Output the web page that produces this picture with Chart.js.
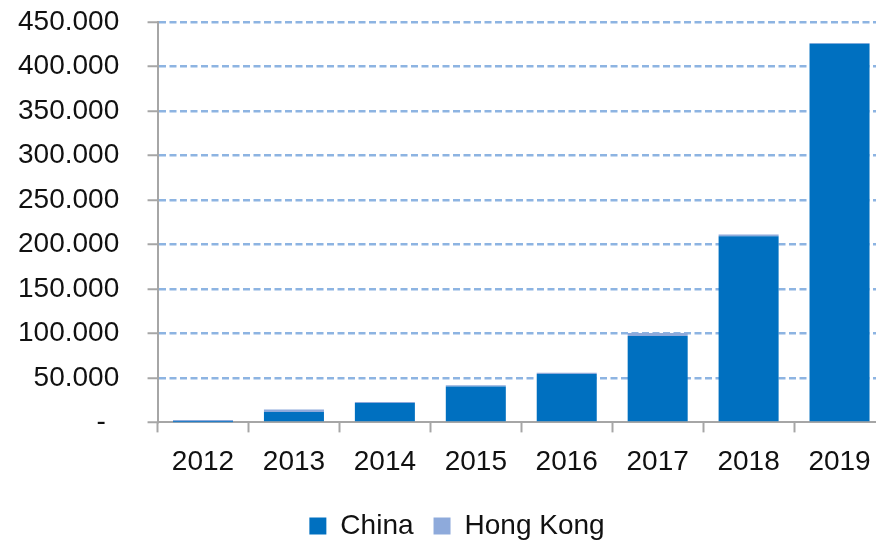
<!DOCTYPE html>
<html>
<head>
<meta charset="utf-8">
<script src="https://cdn.jsdelivr.net/npm/chart.js@4/dist/chart.umd.min.js"></script>
<style>
  html, body { margin: 0; padding: 0; background: #fff; overflow: hidden; }
  #wrap { position: relative; width: 885px; height: 540px; }
</style>
</head>
<body>
<div id="wrap"><canvas id="chart"></canvas></div>
<script>
// Datos
const years = ['2012', '2013', '2014', '2015', '2016', '2017', '2018', '2019'];
const china = [300, 11600, 21700, 40400, 54300, 97000, 209000, 425400];
const hongKong = [2500, 3000, 1100, 1200, 1500, 3300, 2200, 800];
const yTicks = [0, 50000, 100000, 150000, 200000, 250000, 300000, 350000, 400000, 450000];

const fontFamily = '"Liberation Sans", Arial, sans-serif';

// Formato estilo Excel: separador de miles con punto, cero como guion
function formatThousands(v) {
    if (v === 0) return '-    \u2009';
    return String(v).replace(/\B(?=(\d{3})+(?!\d))/g, '.') + '   ';
}

const ctx = document.getElementById('chart');

new Chart(ctx, {
    type: 'bar',
    data: {
        labels: years,
        datasets: [
            {
                label: 'China',
                data: china,
                backgroundColor: '#0070C0',
                barPercentage: 0.66,
                categoryPercentage: 1.0
            },
            {
                label: 'Hong Kong',
                data: hongKong,
                backgroundColor: '#8EAADB',
                barPercentage: 0.66,
                categoryPercentage: 1.0
            }
        ]
    },
    options: {
        responsive: true,
        maintainAspectRatio: false,
        animation: false,
        layout: {
            padding: { left: 13, right: -16, top: 0, bottom: -10 }
        },
        plugins: {
            legend: {
                position: 'bottom',
                labels: {
                    font: { family: fontFamily, size: 28 },
                    color: '#111',
                    boxWidth: 17,
                    boxHeight: 17,
                    padding: 20
                }
            },
            tooltip: { enabled: false }
        },
        scales: {
            x: {
                stacked: true,
                grid: {
                    drawOnChartArea: false,
                    drawTicks: true,
                    tickLength: 10,
                    tickColor: '#A6A6A6',
                    tickWidth: 2
                },
                border: { color: '#A6A6A6', width: 2 },
                ticks: {
                    font: { family: fontFamily, size: 28 },
                    color: '#111',
                    padding: 13
                }
            },
            y: {
                stacked: true,
                min: 0,
                max: 450000,
                afterBuildTicks: (axis) => {
                    axis.ticks = yTicks.map(v => ({ value: v }));
                },
                grid: {
                    color: (c) => (c.tick && c.tick.value === 0 ? 'rgba(0,0,0,0)' : '#8DB4E2'),
                    lineWidth: 2.5,
                    tickLength: 10,
                    tickColor: '#A6A6A6',
                    tickWidth: 2
                },
                border: { color: '#A6A6A6', width: 2, dash: [7, 3.5] },
                ticks: {
                    font: { family: fontFamily, size: 28 },
                    color: '#111',
                    padding: 5,
                    callback: (value) => formatThousands(value)
                }
            }
        }
    }
});
</script>
</body>
</html>
